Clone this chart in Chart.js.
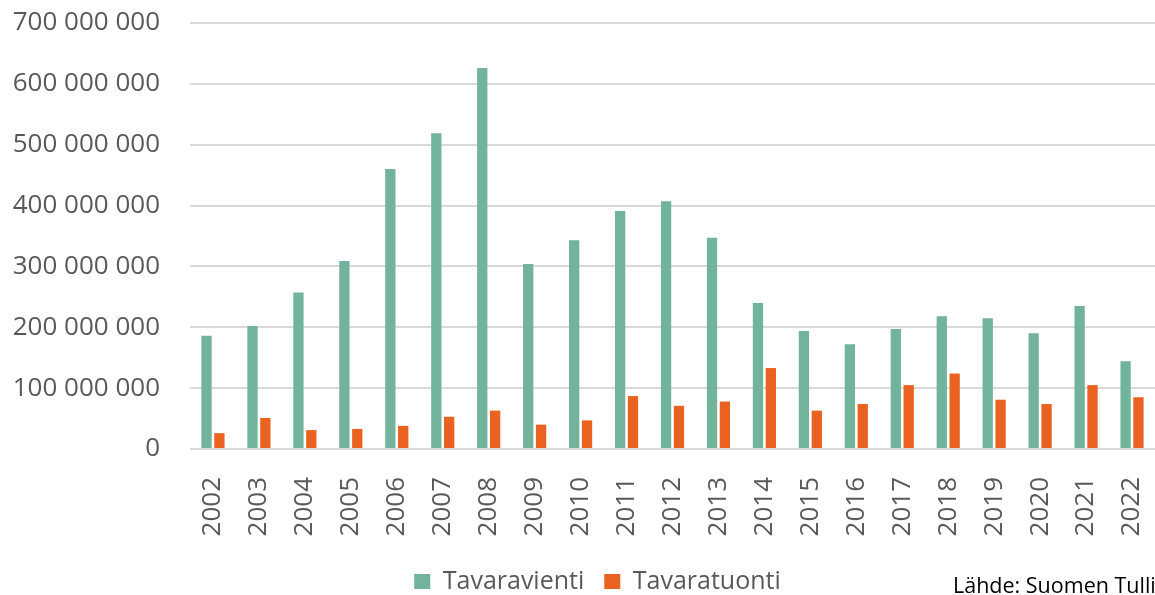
<!DOCTYPE html>
<html>
<head>
<meta charset="utf-8">
<script src="https://cdn.jsdelivr.net/npm/chart.js@4.4.1/dist/chart.umd.min.js"></script>
<style>
  html, body { margin: 0; padding: 0; background: #ffffff; }
  #wrap { position: relative; width: 1155px; height: 595px; overflow: hidden; }
  #source { position: absolute; left: 953px; top: 571px; font-family: "Open Sans", sans-serif; font-size: 21.5px; line-height: 28px; color: #000; white-space: nowrap; }
</style>
</head>
<body>
<div id="wrap">
  <canvas id="c" width="1155" height="595"></canvas>
  <div id="source">Lähde: Suomen Tulli</div>
</div>
<script>
const categories = ["2002","2003","2004","2005","2006","2007","2008","2009","2010","2011","2012","2013","2014","2015","2016","2017","2018","2019","2020","2021","2022"];
const tavaravienti = [186000000,202000000,257000000,309000000,460000000,519000000,626000000,304000000,343000000,391000000,407000000,347000000,240000000,194000000,172000000,197000000,218000000,215000000,190000000,235000000,144000000];
const tavaratuonti = [26000000,51000000,31000000,33000000,38000000,53000000,63000000,40000000,47000000,87000000,71000000,78000000,133000000,63000000,74000000,105000000,124000000,81000000,74000000,105000000,85000000];
const seriesNames = ["Tavaravienti","Tavaratuonti"];
const yMax = 700000000;
const yStep = 100000000;

const fmt = v => String(v).replace(/\B(?=(\d{3})+(?!\d))/g, ' ');

const PLOT_TOP = 23, PLOT_BOTTOM = 449, PLOT_LEFT = 190;

const legendShift = {
  id: 'legendShift',
  afterLayout(chart) {
    const lg = chart.legend;
    const dx = 20, dy = 9;
    lg.left += dx; lg.right += dx;
    lg.top += dy; lg.bottom += dy;
  }
};

new Chart(document.getElementById('c'), {
  type: 'bar',
  data: {
    labels: categories,
    datasets: [
      { label: seriesNames[0], data: tavaravienti, backgroundColor: '#72b39b', categoryPercentage: 0.56, barPercentage: 0.8 },
      { label: seriesNames[1], data: tavaratuonti, backgroundColor: '#e9621f', categoryPercentage: 0.56, barPercentage: 0.8 }
    ]
  },
  options: {
    responsive: false,
    animation: false,
    devicePixelRatio: 1,
    layout: { padding: { top: PLOT_TOP, right: 0, bottom: 0, left: 0 } },
    plugins: {
      tooltip: { enabled: false },
      legend: {
        position: 'bottom',
        labels: {
          color: '#595959',
          font: { family: 'Open Sans', size: 25 },
          boxWidth: 16,
          boxHeight: 15,
          padding: 20
        }
      }
    },
    scales: {
      x: {
        grid: { display: false },
        border: { display: false },
        ticks: {
          color: '#595959',
          font: { family: 'Open Sans', size: 26 },
          minRotation: 90,
          maxRotation: 90,
          padding: 20,
          autoSkip: false
        },
        afterFit(scale) {
          scale.height = 595 - PLOT_BOTTOM - scale.chart.legend.height;
          scale.paddingLeft = 0;
          scale.paddingRight = 0;
        }
      },
      y: {
        min: 0,
        max: yMax,
        ticks: {
          stepSize: yStep,
          color: '#595959',
          font: { family: 'Open Sans', size: 26 },
          padding: 30,
          callback: v => fmt(v)
        },
        grid: { color: '#d9d9d9', lineWidth: 2, drawTicks: false },
        border: { display: false },
        afterFit(scale) {
          scale.width = PLOT_LEFT;
          scale.paddingTop = 0;
          scale.paddingBottom = 0;
        }
      }
    }
  },
  plugins: [legendShift]
});
</script>
</body>
</html>
